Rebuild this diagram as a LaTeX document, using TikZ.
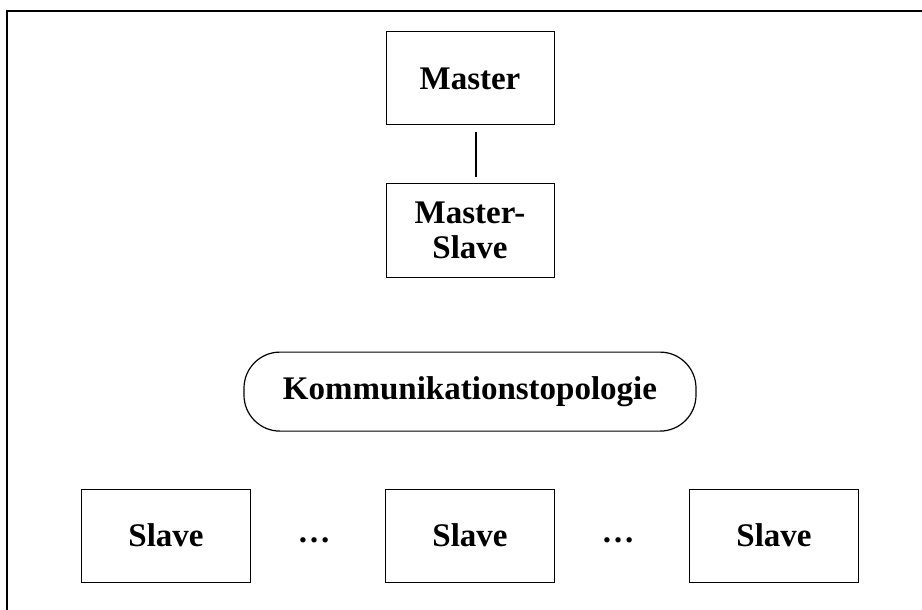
\documentclass[tikz,border=0pt]{standalone}
\usepackage{fontspec}
\setmainfont{Liberation Serif}
\usetikzlibrary{positioning, calc}
\definecolor{clrborder}{HTML}{000000}
\definecolor{clrtext}{HTML}{000000}

\begin{document}
\begin{tikzpicture}[
    x=1pt, y=1pt,
    every node/.style={font=\fontsize{16.5}{17.5}\selectfont\bfseries, text=clrtext},
    block/.style={draw=clrborder, line width=0.5pt, minimum width=84pt,
                  minimum height=46.5pt, inner sep=0pt, align=center},
    pill/.style={draw=clrborder, line width=0.6pt, rounded corners=18pt,
                 minimum width=226pt, minimum height=39.5pt, inner sep=0pt},
    link/.style={draw=clrborder, line width=0.6pt},
    frame/.style={draw=clrborder, line width=0.9pt},
]
\useasboundingbox (0,0) rectangle (461,-305);
\draw[frame] (3.5,-305) -- (3.5,-5.5) -- (461,-5.5);
\node[block] (n_master) at (235,-39.25) {Master};
\node[block, below=29pt of n_master] (n_mslave) {Master-\\Slave};
\node[pill, below=37pt of n_mslave] (n_topo) {Kommunikationstopologie};
\node[block, minimum width=84.5pt, below=28.5pt of n_topo] (n_slave_2) {Slave};
\node[block, minimum width=84.5pt, left=67pt of n_slave_2] (n_slave_1) {Slave};
\node[block, minimum width=84.5pt, right=67pt of n_slave_2] (n_slave_3) {Slave};
\node[inner sep=0pt] (n_dots_1) at ($(n_slave_1.east)!0.5!(n_slave_2.west)+(-2,-2.5)$) {\dots};
\node[inner sep=0pt] (n_dots_2) at ($(n_slave_2.east)!0.5!(n_slave_3.west)+(-2,-2.5)$) {\dots};
\draw[link] ([xshift=3pt, yshift=-3.5pt]n_master.south) -- ([xshift=3pt, yshift=3pt]n_mslave.north);
\end{tikzpicture}
\end{document}
